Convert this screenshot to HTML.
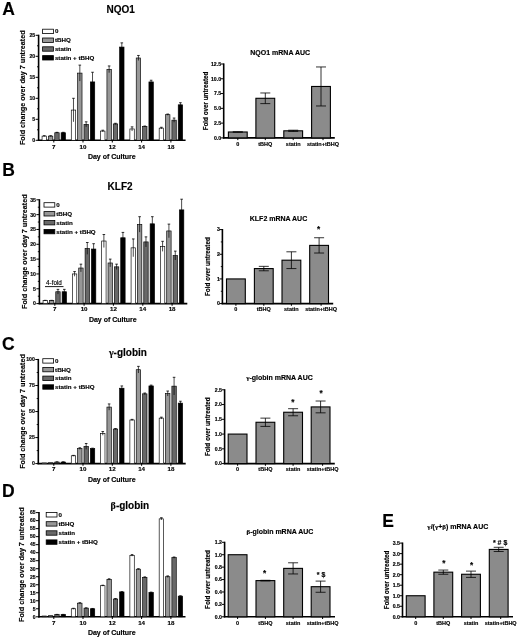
<!DOCTYPE html>
<html><head><meta charset="utf-8"><style>
html,body{margin:0;padding:0;background:#fff;}
body{width:520px;height:639px;overflow:hidden;}
svg{display:block;filter:blur(0.45px);}
text{font-family:"Liberation Sans", sans-serif;fill:#000;stroke:#000;stroke-width:0.15px;}
</style></head><body>
<svg width="520" height="639" viewBox="0 0 520 639">
<rect x="0" y="0" width="520" height="639" fill="#fff"/>
<text x="2.20" y="15.20" font-size="17.5" text-anchor="start" font-weight="bold" >A</text>
<text x="2.15" y="176.40" font-size="17.5" text-anchor="start" font-weight="bold" >B</text>
<text x="2.07" y="350.40" font-size="17.5" text-anchor="start" font-weight="bold" >C</text>
<text x="2.12" y="497.30" font-size="17.5" text-anchor="start" font-weight="bold" >D</text>
<text x="382.20" y="527.00" font-size="17.5" text-anchor="start" font-weight="bold" >E</text>
<line x1="38.60" y1="34.70" x2="38.60" y2="140.90" stroke="#000" stroke-width="1.6"/>
<line x1="37.80" y1="140.30" x2="185.60" y2="140.30" stroke="#000" stroke-width="1.6"/>
<line x1="35.60" y1="140.30" x2="38.60" y2="140.30" stroke="#000" stroke-width="1.0"/>
<text x="35.20" y="142.17" font-size="5.2" text-anchor="end" font-weight="bold" >0</text>
<line x1="35.60" y1="119.30" x2="38.60" y2="119.30" stroke="#000" stroke-width="1.0"/>
<text x="35.20" y="121.17" font-size="5.2" text-anchor="end" font-weight="bold" >5</text>
<line x1="35.60" y1="98.30" x2="38.60" y2="98.30" stroke="#000" stroke-width="1.0"/>
<text x="35.20" y="100.17" font-size="5.2" text-anchor="end" font-weight="bold" >10</text>
<line x1="35.60" y1="77.30" x2="38.60" y2="77.30" stroke="#000" stroke-width="1.0"/>
<text x="35.20" y="79.17" font-size="5.2" text-anchor="end" font-weight="bold" >15</text>
<line x1="35.60" y1="56.30" x2="38.60" y2="56.30" stroke="#000" stroke-width="1.0"/>
<text x="35.20" y="58.17" font-size="5.2" text-anchor="end" font-weight="bold" >20</text>
<line x1="35.60" y1="35.30" x2="38.60" y2="35.30" stroke="#000" stroke-width="1.0"/>
<text x="35.20" y="37.17" font-size="5.2" text-anchor="end" font-weight="bold" >25</text>
<line x1="37.00" y1="129.80" x2="38.60" y2="129.80" stroke="#000" stroke-width="0.9"/>
<line x1="37.00" y1="108.80" x2="38.60" y2="108.80" stroke="#000" stroke-width="0.9"/>
<line x1="37.00" y1="87.80" x2="38.60" y2="87.80" stroke="#000" stroke-width="0.9"/>
<line x1="37.00" y1="66.80" x2="38.60" y2="66.80" stroke="#000" stroke-width="0.9"/>
<line x1="37.00" y1="45.80" x2="38.60" y2="45.80" stroke="#000" stroke-width="0.9"/>
<line x1="53.80" y1="140.30" x2="53.80" y2="142.50" stroke="#000" stroke-width="1.0"/>
<text x="53.80" y="149.00" font-size="6.2" text-anchor="middle" font-weight="bold" >7</text>
<rect x="42.07" y="136.10" width="4.40" height="4.20" fill="#ffffff" stroke="#000" stroke-width="0.65"/>
<line x1="44.27" y1="135.68" x2="44.27" y2="136.52" stroke="#000" stroke-width="0.7"/>
<line x1="42.98" y1="135.68" x2="45.57" y2="135.68" stroke="#000" stroke-width="0.8"/>
<rect x="48.42" y="136.10" width="4.40" height="4.20" fill="#979797" stroke="#000" stroke-width="0.65"/>
<line x1="50.62" y1="135.68" x2="50.62" y2="136.52" stroke="#000" stroke-width="0.7"/>
<line x1="49.33" y1="135.68" x2="51.92" y2="135.68" stroke="#000" stroke-width="0.8"/>
<rect x="54.77" y="132.74" width="4.40" height="7.56" fill="#686868" stroke="#000" stroke-width="0.65"/>
<line x1="56.97" y1="132.32" x2="56.97" y2="133.16" stroke="#000" stroke-width="0.7"/>
<line x1="55.67" y1="132.32" x2="58.27" y2="132.32" stroke="#000" stroke-width="0.8"/>
<rect x="61.12" y="132.74" width="4.40" height="7.56" fill="#000000" stroke="#000" stroke-width="0.65"/>
<line x1="63.32" y1="132.32" x2="63.32" y2="133.16" stroke="#000" stroke-width="0.7"/>
<line x1="62.02" y1="132.32" x2="64.62" y2="132.32" stroke="#000" stroke-width="0.8"/>
<line x1="83.00" y1="140.30" x2="83.00" y2="142.50" stroke="#000" stroke-width="1.0"/>
<text x="83.00" y="149.00" font-size="6.2" text-anchor="middle" font-weight="bold" >10</text>
<rect x="71.28" y="110.06" width="4.40" height="30.24" fill="#ffffff" stroke="#000" stroke-width="0.65"/>
<line x1="73.47" y1="98.30" x2="73.47" y2="121.82" stroke="#000" stroke-width="0.7"/>
<line x1="72.17" y1="98.30" x2="74.77" y2="98.30" stroke="#000" stroke-width="0.8"/>
<rect x="77.63" y="73.10" width="4.40" height="67.20" fill="#979797" stroke="#000" stroke-width="0.65"/>
<line x1="79.83" y1="65.12" x2="79.83" y2="81.08" stroke="#000" stroke-width="0.7"/>
<line x1="78.53" y1="65.12" x2="81.12" y2="65.12" stroke="#000" stroke-width="0.8"/>
<rect x="83.98" y="124.34" width="4.40" height="15.96" fill="#686868" stroke="#000" stroke-width="0.65"/>
<line x1="86.17" y1="121.82" x2="86.17" y2="126.86" stroke="#000" stroke-width="0.7"/>
<line x1="84.88" y1="121.82" x2="87.47" y2="121.82" stroke="#000" stroke-width="0.8"/>
<rect x="90.33" y="81.92" width="4.40" height="58.38" fill="#000000" stroke="#000" stroke-width="0.65"/>
<line x1="92.53" y1="72.26" x2="92.53" y2="91.58" stroke="#000" stroke-width="0.7"/>
<line x1="91.23" y1="72.26" x2="93.83" y2="72.26" stroke="#000" stroke-width="0.8"/>
<line x1="112.30" y1="140.30" x2="112.30" y2="142.50" stroke="#000" stroke-width="1.0"/>
<text x="112.30" y="149.00" font-size="6.2" text-anchor="middle" font-weight="bold" >12</text>
<rect x="100.58" y="131.06" width="4.40" height="9.24" fill="#ffffff" stroke="#000" stroke-width="0.65"/>
<line x1="102.78" y1="130.22" x2="102.78" y2="131.90" stroke="#000" stroke-width="0.7"/>
<line x1="101.48" y1="130.22" x2="104.08" y2="130.22" stroke="#000" stroke-width="0.8"/>
<rect x="106.93" y="69.32" width="4.40" height="70.98" fill="#979797" stroke="#000" stroke-width="0.65"/>
<line x1="109.12" y1="65.96" x2="109.12" y2="72.68" stroke="#000" stroke-width="0.7"/>
<line x1="107.83" y1="65.96" x2="110.42" y2="65.96" stroke="#000" stroke-width="0.8"/>
<rect x="113.28" y="123.92" width="4.40" height="16.38" fill="#686868" stroke="#000" stroke-width="0.65"/>
<line x1="115.47" y1="123.29" x2="115.47" y2="124.55" stroke="#000" stroke-width="0.7"/>
<line x1="114.17" y1="123.29" x2="116.77" y2="123.29" stroke="#000" stroke-width="0.8"/>
<rect x="119.62" y="47.06" width="4.40" height="93.24" fill="#000000" stroke="#000" stroke-width="0.65"/>
<line x1="121.82" y1="42.86" x2="121.82" y2="51.26" stroke="#000" stroke-width="0.7"/>
<line x1="120.52" y1="42.86" x2="123.12" y2="42.86" stroke="#000" stroke-width="0.8"/>
<line x1="141.60" y1="140.30" x2="141.60" y2="142.50" stroke="#000" stroke-width="1.0"/>
<text x="141.60" y="149.00" font-size="6.2" text-anchor="middle" font-weight="bold" >14</text>
<rect x="129.88" y="128.96" width="4.40" height="11.34" fill="#ffffff" stroke="#000" stroke-width="0.65"/>
<line x1="132.07" y1="126.86" x2="132.07" y2="131.06" stroke="#000" stroke-width="0.7"/>
<line x1="130.77" y1="126.86" x2="133.38" y2="126.86" stroke="#000" stroke-width="0.8"/>
<rect x="136.22" y="57.98" width="4.40" height="82.32" fill="#979797" stroke="#000" stroke-width="0.65"/>
<line x1="138.42" y1="55.46" x2="138.42" y2="60.50" stroke="#000" stroke-width="0.7"/>
<line x1="137.12" y1="55.46" x2="139.72" y2="55.46" stroke="#000" stroke-width="0.8"/>
<rect x="142.58" y="126.44" width="4.40" height="13.86" fill="#686868" stroke="#000" stroke-width="0.65"/>
<line x1="144.78" y1="126.02" x2="144.78" y2="126.86" stroke="#000" stroke-width="0.7"/>
<line x1="143.47" y1="126.02" x2="146.08" y2="126.02" stroke="#000" stroke-width="0.8"/>
<rect x="148.93" y="81.92" width="4.40" height="58.38" fill="#000000" stroke="#000" stroke-width="0.65"/>
<line x1="151.12" y1="80.24" x2="151.12" y2="83.60" stroke="#000" stroke-width="0.7"/>
<line x1="149.82" y1="80.24" x2="152.43" y2="80.24" stroke="#000" stroke-width="0.8"/>
<line x1="170.90" y1="140.30" x2="170.90" y2="142.50" stroke="#000" stroke-width="1.0"/>
<text x="170.90" y="149.00" font-size="6.2" text-anchor="middle" font-weight="bold" >18</text>
<rect x="159.18" y="128.12" width="4.40" height="12.18" fill="#ffffff" stroke="#000" stroke-width="0.65"/>
<line x1="161.38" y1="127.28" x2="161.38" y2="128.96" stroke="#000" stroke-width="0.7"/>
<line x1="160.07" y1="127.28" x2="162.68" y2="127.28" stroke="#000" stroke-width="0.8"/>
<rect x="165.53" y="114.68" width="4.40" height="25.62" fill="#979797" stroke="#000" stroke-width="0.65"/>
<line x1="167.72" y1="114.05" x2="167.72" y2="115.31" stroke="#000" stroke-width="0.7"/>
<line x1="166.42" y1="114.05" x2="169.03" y2="114.05" stroke="#000" stroke-width="0.8"/>
<rect x="171.88" y="120.14" width="4.40" height="20.16" fill="#686868" stroke="#000" stroke-width="0.65"/>
<line x1="174.08" y1="118.04" x2="174.08" y2="122.24" stroke="#000" stroke-width="0.7"/>
<line x1="172.78" y1="118.04" x2="175.38" y2="118.04" stroke="#000" stroke-width="0.8"/>
<rect x="178.23" y="104.81" width="4.40" height="35.49" fill="#000000" stroke="#000" stroke-width="0.65"/>
<line x1="180.43" y1="102.71" x2="180.43" y2="106.91" stroke="#000" stroke-width="0.7"/>
<line x1="179.12" y1="102.71" x2="181.73" y2="102.71" stroke="#000" stroke-width="0.8"/>
<rect x="42.60" y="29.20" width="10.80" height="4.40" fill="#ffffff" stroke="#000" stroke-width="0.8"/>
<text x="54.90" y="33.40" font-size="6.2" text-anchor="start" font-weight="bold" >0</text>
<rect x="42.60" y="38.00" width="10.80" height="4.40" fill="#979797" stroke="#000" stroke-width="0.8"/>
<text x="54.90" y="42.20" font-size="6.2" text-anchor="start" font-weight="bold" >tBHQ</text>
<rect x="42.60" y="46.80" width="10.80" height="4.40" fill="#686868" stroke="#000" stroke-width="0.8"/>
<text x="54.90" y="51.00" font-size="6.2" text-anchor="start" font-weight="bold" >statin</text>
<rect x="42.60" y="55.60" width="10.80" height="4.40" fill="#000000" stroke="#000" stroke-width="0.8"/>
<text x="54.90" y="59.80" font-size="6.2" text-anchor="start" font-weight="bold" >statin + tBHQ</text>
<text x="120.60" y="12.60" font-size="10" text-anchor="middle" font-weight="bold" >NQO1</text>
<text x="111.80" y="158.50" font-size="7" text-anchor="middle" font-weight="bold" >Day of Culture</text>
<text x="0.00" y="0.00" font-size="7.2" text-anchor="middle" font-weight="bold" transform="translate(25.30,87.80) rotate(-90)">Fold change over day 7 untreated</text>
<line x1="39.40" y1="199.20" x2="39.40" y2="304.20" stroke="#000" stroke-width="1.6"/>
<line x1="38.60" y1="303.60" x2="187.30" y2="303.60" stroke="#000" stroke-width="1.6"/>
<line x1="36.40" y1="303.60" x2="39.40" y2="303.60" stroke="#000" stroke-width="1.0"/>
<text x="36.00" y="305.47" font-size="5.2" text-anchor="end" font-weight="bold" >0</text>
<line x1="36.40" y1="288.77" x2="39.40" y2="288.77" stroke="#000" stroke-width="1.0"/>
<text x="36.00" y="290.64" font-size="5.2" text-anchor="end" font-weight="bold" >5</text>
<line x1="36.40" y1="273.94" x2="39.40" y2="273.94" stroke="#000" stroke-width="1.0"/>
<text x="36.00" y="275.81" font-size="5.2" text-anchor="end" font-weight="bold" >10</text>
<line x1="36.40" y1="259.11" x2="39.40" y2="259.11" stroke="#000" stroke-width="1.0"/>
<text x="36.00" y="260.99" font-size="5.2" text-anchor="end" font-weight="bold" >15</text>
<line x1="36.40" y1="244.29" x2="39.40" y2="244.29" stroke="#000" stroke-width="1.0"/>
<text x="36.00" y="246.16" font-size="5.2" text-anchor="end" font-weight="bold" >20</text>
<line x1="36.40" y1="229.46" x2="39.40" y2="229.46" stroke="#000" stroke-width="1.0"/>
<text x="36.00" y="231.33" font-size="5.2" text-anchor="end" font-weight="bold" >25</text>
<line x1="36.40" y1="214.63" x2="39.40" y2="214.63" stroke="#000" stroke-width="1.0"/>
<text x="36.00" y="216.50" font-size="5.2" text-anchor="end" font-weight="bold" >30</text>
<line x1="36.40" y1="199.80" x2="39.40" y2="199.80" stroke="#000" stroke-width="1.0"/>
<text x="36.00" y="201.67" font-size="5.2" text-anchor="end" font-weight="bold" >35</text>
<line x1="37.80" y1="296.19" x2="39.40" y2="296.19" stroke="#000" stroke-width="0.9"/>
<line x1="37.80" y1="281.36" x2="39.40" y2="281.36" stroke="#000" stroke-width="0.9"/>
<line x1="37.80" y1="266.53" x2="39.40" y2="266.53" stroke="#000" stroke-width="0.9"/>
<line x1="37.80" y1="251.70" x2="39.40" y2="251.70" stroke="#000" stroke-width="0.9"/>
<line x1="37.80" y1="236.87" x2="39.40" y2="236.87" stroke="#000" stroke-width="0.9"/>
<line x1="37.80" y1="222.04" x2="39.40" y2="222.04" stroke="#000" stroke-width="0.9"/>
<line x1="37.80" y1="207.21" x2="39.40" y2="207.21" stroke="#000" stroke-width="0.9"/>
<line x1="54.80" y1="303.60" x2="54.80" y2="305.80" stroke="#000" stroke-width="1.0"/>
<text x="54.80" y="311.30" font-size="6.2" text-anchor="middle" font-weight="bold" >7</text>
<rect x="43.07" y="300.63" width="4.40" height="2.97" fill="#ffffff" stroke="#000" stroke-width="0.65"/>
<line x1="45.27" y1="300.34" x2="45.27" y2="300.93" stroke="#000" stroke-width="0.7"/>
<line x1="43.98" y1="300.34" x2="46.57" y2="300.34" stroke="#000" stroke-width="0.8"/>
<rect x="49.42" y="300.63" width="4.40" height="2.97" fill="#979797" stroke="#000" stroke-width="0.65"/>
<line x1="51.62" y1="300.34" x2="51.62" y2="300.93" stroke="#000" stroke-width="0.7"/>
<line x1="50.33" y1="300.34" x2="52.92" y2="300.34" stroke="#000" stroke-width="0.8"/>
<rect x="55.77" y="291.74" width="4.40" height="11.86" fill="#686868" stroke="#000" stroke-width="0.65"/>
<line x1="57.97" y1="289.36" x2="57.97" y2="294.11" stroke="#000" stroke-width="0.7"/>
<line x1="56.67" y1="289.36" x2="59.27" y2="289.36" stroke="#000" stroke-width="0.8"/>
<rect x="62.12" y="291.74" width="4.40" height="11.86" fill="#000000" stroke="#000" stroke-width="0.65"/>
<line x1="64.32" y1="289.36" x2="64.32" y2="294.11" stroke="#000" stroke-width="0.7"/>
<line x1="63.02" y1="289.36" x2="65.62" y2="289.36" stroke="#000" stroke-width="0.8"/>
<line x1="84.10" y1="303.60" x2="84.10" y2="305.80" stroke="#000" stroke-width="1.0"/>
<text x="84.10" y="311.30" font-size="6.2" text-anchor="middle" font-weight="bold" >10</text>
<rect x="72.38" y="273.94" width="4.40" height="29.66" fill="#ffffff" stroke="#000" stroke-width="0.65"/>
<line x1="74.57" y1="271.57" x2="74.57" y2="276.32" stroke="#000" stroke-width="0.7"/>
<line x1="73.27" y1="271.57" x2="75.87" y2="271.57" stroke="#000" stroke-width="0.8"/>
<rect x="78.73" y="268.01" width="4.40" height="35.59" fill="#979797" stroke="#000" stroke-width="0.65"/>
<line x1="80.92" y1="264.16" x2="80.92" y2="271.87" stroke="#000" stroke-width="0.7"/>
<line x1="79.62" y1="264.16" x2="82.22" y2="264.16" stroke="#000" stroke-width="0.8"/>
<rect x="85.08" y="248.44" width="4.40" height="55.16" fill="#686868" stroke="#000" stroke-width="0.65"/>
<line x1="87.27" y1="242.51" x2="87.27" y2="254.37" stroke="#000" stroke-width="0.7"/>
<line x1="85.97" y1="242.51" x2="88.57" y2="242.51" stroke="#000" stroke-width="0.8"/>
<rect x="91.43" y="249.03" width="4.40" height="54.57" fill="#000000" stroke="#000" stroke-width="0.65"/>
<line x1="93.62" y1="243.69" x2="93.62" y2="254.37" stroke="#000" stroke-width="0.7"/>
<line x1="92.33" y1="243.69" x2="94.92" y2="243.69" stroke="#000" stroke-width="0.8"/>
<line x1="113.40" y1="303.60" x2="113.40" y2="305.80" stroke="#000" stroke-width="1.0"/>
<text x="113.40" y="311.30" font-size="6.2" text-anchor="middle" font-weight="bold" >12</text>
<rect x="101.68" y="241.02" width="4.40" height="62.58" fill="#ffffff" stroke="#000" stroke-width="0.65"/>
<line x1="103.88" y1="234.50" x2="103.88" y2="247.55" stroke="#000" stroke-width="0.7"/>
<line x1="102.58" y1="234.50" x2="105.17" y2="234.50" stroke="#000" stroke-width="0.8"/>
<rect x="108.03" y="262.97" width="4.40" height="40.63" fill="#979797" stroke="#000" stroke-width="0.65"/>
<line x1="110.23" y1="259.11" x2="110.23" y2="266.83" stroke="#000" stroke-width="0.7"/>
<line x1="108.93" y1="259.11" x2="111.53" y2="259.11" stroke="#000" stroke-width="0.8"/>
<rect x="114.38" y="266.83" width="4.40" height="36.77" fill="#686868" stroke="#000" stroke-width="0.65"/>
<line x1="116.58" y1="264.16" x2="116.58" y2="269.49" stroke="#000" stroke-width="0.7"/>
<line x1="115.28" y1="264.16" x2="117.88" y2="264.16" stroke="#000" stroke-width="0.8"/>
<rect x="120.73" y="237.76" width="4.40" height="65.84" fill="#000000" stroke="#000" stroke-width="0.65"/>
<line x1="122.93" y1="232.42" x2="122.93" y2="243.10" stroke="#000" stroke-width="0.7"/>
<line x1="121.63" y1="232.42" x2="124.23" y2="232.42" stroke="#000" stroke-width="0.8"/>
<line x1="142.80" y1="303.60" x2="142.80" y2="305.80" stroke="#000" stroke-width="1.0"/>
<text x="142.80" y="311.30" font-size="6.2" text-anchor="middle" font-weight="bold" >14</text>
<rect x="131.08" y="247.84" width="4.40" height="55.76" fill="#ffffff" stroke="#000" stroke-width="0.65"/>
<line x1="133.28" y1="238.95" x2="133.28" y2="256.74" stroke="#000" stroke-width="0.7"/>
<line x1="131.97" y1="238.95" x2="134.58" y2="238.95" stroke="#000" stroke-width="0.8"/>
<rect x="137.43" y="224.42" width="4.40" height="79.18" fill="#979797" stroke="#000" stroke-width="0.65"/>
<line x1="139.62" y1="216.70" x2="139.62" y2="232.13" stroke="#000" stroke-width="0.7"/>
<line x1="138.32" y1="216.70" x2="140.93" y2="216.70" stroke="#000" stroke-width="0.8"/>
<rect x="143.78" y="241.91" width="4.40" height="61.69" fill="#686868" stroke="#000" stroke-width="0.65"/>
<line x1="145.98" y1="236.87" x2="145.98" y2="246.95" stroke="#000" stroke-width="0.7"/>
<line x1="144.68" y1="236.87" x2="147.28" y2="236.87" stroke="#000" stroke-width="0.8"/>
<rect x="150.13" y="223.82" width="4.40" height="79.78" fill="#000000" stroke="#000" stroke-width="0.65"/>
<line x1="152.33" y1="216.70" x2="152.33" y2="230.94" stroke="#000" stroke-width="0.7"/>
<line x1="151.03" y1="216.70" x2="153.63" y2="216.70" stroke="#000" stroke-width="0.8"/>
<line x1="172.10" y1="303.60" x2="172.10" y2="305.80" stroke="#000" stroke-width="1.0"/>
<text x="172.10" y="311.30" font-size="6.2" text-anchor="middle" font-weight="bold" >18</text>
<rect x="160.38" y="246.36" width="4.40" height="57.24" fill="#ffffff" stroke="#000" stroke-width="0.65"/>
<line x1="162.57" y1="241.32" x2="162.57" y2="251.40" stroke="#000" stroke-width="0.7"/>
<line x1="161.27" y1="241.32" x2="163.88" y2="241.32" stroke="#000" stroke-width="0.8"/>
<rect x="166.72" y="230.94" width="4.40" height="72.66" fill="#979797" stroke="#000" stroke-width="0.65"/>
<line x1="168.92" y1="224.12" x2="168.92" y2="237.76" stroke="#000" stroke-width="0.7"/>
<line x1="167.62" y1="224.12" x2="170.22" y2="224.12" stroke="#000" stroke-width="0.8"/>
<rect x="173.08" y="255.56" width="4.40" height="48.04" fill="#686868" stroke="#000" stroke-width="0.65"/>
<line x1="175.28" y1="251.11" x2="175.28" y2="260.00" stroke="#000" stroke-width="0.7"/>
<line x1="173.97" y1="251.11" x2="176.58" y2="251.11" stroke="#000" stroke-width="0.8"/>
<rect x="179.43" y="209.88" width="4.40" height="93.72" fill="#000000" stroke="#000" stroke-width="0.65"/>
<line x1="181.62" y1="199.21" x2="181.62" y2="220.56" stroke="#000" stroke-width="0.7"/>
<line x1="180.32" y1="199.21" x2="182.93" y2="199.21" stroke="#000" stroke-width="0.8"/>
<rect x="44.00" y="202.70" width="10.80" height="4.40" fill="#ffffff" stroke="#000" stroke-width="0.8"/>
<text x="56.30" y="206.90" font-size="6.2" text-anchor="start" font-weight="bold" >0</text>
<rect x="44.00" y="211.60" width="10.80" height="4.40" fill="#979797" stroke="#000" stroke-width="0.8"/>
<text x="56.30" y="215.80" font-size="6.2" text-anchor="start" font-weight="bold" >tBHQ</text>
<rect x="44.00" y="220.50" width="10.80" height="4.40" fill="#686868" stroke="#000" stroke-width="0.8"/>
<text x="56.30" y="224.70" font-size="6.2" text-anchor="start" font-weight="bold" >statin</text>
<rect x="44.00" y="229.40" width="10.80" height="4.40" fill="#000000" stroke="#000" stroke-width="0.8"/>
<text x="56.30" y="233.60" font-size="6.2" text-anchor="start" font-weight="bold" >statin + tBHQ</text>
<text x="120.10" y="190.30" font-size="10" text-anchor="middle" font-weight="bold" >KLF2</text>
<text x="112.80" y="322.00" font-size="7" text-anchor="middle" font-weight="bold" >Day of Culture</text>
<text x="0.00" y="0.00" font-size="7.2" text-anchor="middle" font-weight="bold" transform="translate(26.50,251.70) rotate(-90)">Fold change over day 7 untreated</text>
<text x="54.00" y="284.60" font-size="6.3" text-anchor="middle" font-weight="normal" >4-fold</text>
<line x1="45.00" y1="286.60" x2="63.50" y2="286.60" stroke="#000" stroke-width="0.9"/>
<line x1="38.30" y1="358.90" x2="38.30" y2="464.20" stroke="#000" stroke-width="1.6"/>
<line x1="37.50" y1="463.60" x2="185.70" y2="463.60" stroke="#000" stroke-width="1.6"/>
<line x1="35.30" y1="463.60" x2="38.30" y2="463.60" stroke="#000" stroke-width="1.0"/>
<text x="34.90" y="465.47" font-size="5.2" text-anchor="end" font-weight="bold" >0</text>
<line x1="35.30" y1="437.58" x2="38.30" y2="437.58" stroke="#000" stroke-width="1.0"/>
<text x="34.90" y="439.45" font-size="5.2" text-anchor="end" font-weight="bold" >25</text>
<line x1="35.30" y1="411.55" x2="38.30" y2="411.55" stroke="#000" stroke-width="1.0"/>
<text x="34.90" y="413.42" font-size="5.2" text-anchor="end" font-weight="bold" >50</text>
<line x1="35.30" y1="385.52" x2="38.30" y2="385.52" stroke="#000" stroke-width="1.0"/>
<text x="34.90" y="387.40" font-size="5.2" text-anchor="end" font-weight="bold" >75</text>
<line x1="35.30" y1="359.50" x2="38.30" y2="359.50" stroke="#000" stroke-width="1.0"/>
<text x="34.90" y="361.37" font-size="5.2" text-anchor="end" font-weight="bold" >100</text>
<line x1="36.70" y1="450.59" x2="38.30" y2="450.59" stroke="#000" stroke-width="0.9"/>
<line x1="36.70" y1="424.56" x2="38.30" y2="424.56" stroke="#000" stroke-width="0.9"/>
<line x1="36.70" y1="398.54" x2="38.30" y2="398.54" stroke="#000" stroke-width="0.9"/>
<line x1="36.70" y1="372.51" x2="38.30" y2="372.51" stroke="#000" stroke-width="0.9"/>
<line x1="53.80" y1="463.60" x2="53.80" y2="465.80" stroke="#000" stroke-width="1.0"/>
<text x="53.80" y="471.00" font-size="6.2" text-anchor="middle" font-weight="bold" >7</text>
<rect x="42.07" y="462.98" width="4.40" height="0.62" fill="#ffffff" stroke="#000" stroke-width="0.65"/>
<rect x="48.42" y="462.77" width="4.40" height="0.83" fill="#979797" stroke="#000" stroke-width="0.65"/>
<rect x="54.77" y="462.04" width="4.40" height="1.56" fill="#686868" stroke="#000" stroke-width="0.65"/>
<line x1="56.97" y1="461.83" x2="56.97" y2="462.25" stroke="#000" stroke-width="0.7"/>
<line x1="55.67" y1="461.83" x2="58.27" y2="461.83" stroke="#000" stroke-width="0.8"/>
<rect x="61.12" y="462.04" width="4.40" height="1.56" fill="#000000" stroke="#000" stroke-width="0.65"/>
<line x1="63.32" y1="461.83" x2="63.32" y2="462.25" stroke="#000" stroke-width="0.7"/>
<line x1="62.02" y1="461.83" x2="64.62" y2="461.83" stroke="#000" stroke-width="0.8"/>
<line x1="83.00" y1="463.60" x2="83.00" y2="465.80" stroke="#000" stroke-width="1.0"/>
<text x="83.00" y="471.00" font-size="6.2" text-anchor="middle" font-weight="bold" >10</text>
<rect x="71.28" y="455.79" width="4.40" height="7.81" fill="#ffffff" stroke="#000" stroke-width="0.65"/>
<line x1="73.47" y1="455.38" x2="73.47" y2="456.21" stroke="#000" stroke-width="0.7"/>
<line x1="72.17" y1="455.38" x2="74.77" y2="455.38" stroke="#000" stroke-width="0.8"/>
<rect x="77.63" y="448.61" width="4.40" height="14.99" fill="#979797" stroke="#000" stroke-width="0.65"/>
<line x1="79.83" y1="447.78" x2="79.83" y2="449.44" stroke="#000" stroke-width="0.7"/>
<line x1="78.53" y1="447.78" x2="81.12" y2="447.78" stroke="#000" stroke-width="0.8"/>
<rect x="83.98" y="446.42" width="4.40" height="17.18" fill="#686868" stroke="#000" stroke-width="0.65"/>
<line x1="86.17" y1="443.51" x2="86.17" y2="449.34" stroke="#000" stroke-width="0.7"/>
<line x1="84.88" y1="443.51" x2="87.47" y2="443.51" stroke="#000" stroke-width="0.8"/>
<rect x="90.33" y="448.61" width="4.40" height="14.99" fill="#000000" stroke="#000" stroke-width="0.65"/>
<line x1="92.53" y1="448.19" x2="92.53" y2="449.03" stroke="#000" stroke-width="0.7"/>
<line x1="91.23" y1="448.19" x2="93.83" y2="448.19" stroke="#000" stroke-width="0.8"/>
<line x1="112.30" y1="463.60" x2="112.30" y2="465.80" stroke="#000" stroke-width="1.0"/>
<text x="112.30" y="471.00" font-size="6.2" text-anchor="middle" font-weight="bold" >12</text>
<rect x="100.58" y="433.41" width="4.40" height="30.19" fill="#ffffff" stroke="#000" stroke-width="0.65"/>
<line x1="102.78" y1="431.54" x2="102.78" y2="435.28" stroke="#000" stroke-width="0.7"/>
<line x1="101.48" y1="431.54" x2="104.08" y2="431.54" stroke="#000" stroke-width="0.8"/>
<rect x="106.93" y="407.07" width="4.40" height="56.53" fill="#979797" stroke="#000" stroke-width="0.65"/>
<line x1="109.12" y1="403.95" x2="109.12" y2="410.20" stroke="#000" stroke-width="0.7"/>
<line x1="107.83" y1="403.95" x2="110.42" y2="403.95" stroke="#000" stroke-width="0.8"/>
<rect x="113.28" y="429.04" width="4.40" height="34.56" fill="#686868" stroke="#000" stroke-width="0.65"/>
<line x1="115.47" y1="428.52" x2="115.47" y2="429.56" stroke="#000" stroke-width="0.7"/>
<line x1="114.17" y1="428.52" x2="116.77" y2="428.52" stroke="#000" stroke-width="0.8"/>
<rect x="119.62" y="388.23" width="4.40" height="75.37" fill="#000000" stroke="#000" stroke-width="0.65"/>
<line x1="121.82" y1="385.94" x2="121.82" y2="390.52" stroke="#000" stroke-width="0.7"/>
<line x1="120.52" y1="385.94" x2="123.12" y2="385.94" stroke="#000" stroke-width="0.8"/>
<line x1="141.60" y1="463.60" x2="141.60" y2="465.80" stroke="#000" stroke-width="1.0"/>
<text x="141.60" y="471.00" font-size="6.2" text-anchor="middle" font-weight="bold" >14</text>
<rect x="129.88" y="419.98" width="4.40" height="43.62" fill="#ffffff" stroke="#000" stroke-width="0.65"/>
<line x1="132.07" y1="419.36" x2="132.07" y2="420.61" stroke="#000" stroke-width="0.7"/>
<line x1="130.77" y1="419.36" x2="133.38" y2="419.36" stroke="#000" stroke-width="0.8"/>
<rect x="136.22" y="369.70" width="4.40" height="93.90" fill="#979797" stroke="#000" stroke-width="0.65"/>
<line x1="138.42" y1="366.37" x2="138.42" y2="373.03" stroke="#000" stroke-width="0.7"/>
<line x1="137.12" y1="366.37" x2="139.72" y2="366.37" stroke="#000" stroke-width="0.8"/>
<rect x="142.58" y="393.85" width="4.40" height="69.75" fill="#686868" stroke="#000" stroke-width="0.65"/>
<line x1="144.78" y1="393.02" x2="144.78" y2="394.69" stroke="#000" stroke-width="0.7"/>
<line x1="143.47" y1="393.02" x2="146.08" y2="393.02" stroke="#000" stroke-width="0.8"/>
<rect x="148.93" y="385.94" width="4.40" height="77.66" fill="#000000" stroke="#000" stroke-width="0.65"/>
<line x1="151.12" y1="385.11" x2="151.12" y2="386.77" stroke="#000" stroke-width="0.7"/>
<line x1="149.82" y1="385.11" x2="152.43" y2="385.11" stroke="#000" stroke-width="0.8"/>
<line x1="170.90" y1="463.60" x2="170.90" y2="465.80" stroke="#000" stroke-width="1.0"/>
<text x="170.90" y="471.00" font-size="6.2" text-anchor="middle" font-weight="bold" >18</text>
<rect x="159.18" y="418.11" width="4.40" height="45.49" fill="#ffffff" stroke="#000" stroke-width="0.65"/>
<line x1="161.38" y1="417.17" x2="161.38" y2="419.05" stroke="#000" stroke-width="0.7"/>
<line x1="160.07" y1="417.17" x2="162.68" y2="417.17" stroke="#000" stroke-width="0.8"/>
<rect x="165.53" y="393.54" width="4.40" height="70.06" fill="#979797" stroke="#000" stroke-width="0.65"/>
<line x1="167.72" y1="391.04" x2="167.72" y2="396.04" stroke="#000" stroke-width="0.7"/>
<line x1="166.42" y1="391.04" x2="169.03" y2="391.04" stroke="#000" stroke-width="0.8"/>
<rect x="171.88" y="386.15" width="4.40" height="77.45" fill="#686868" stroke="#000" stroke-width="0.65"/>
<line x1="174.08" y1="377.30" x2="174.08" y2="395.00" stroke="#000" stroke-width="0.7"/>
<line x1="172.78" y1="377.30" x2="175.38" y2="377.30" stroke="#000" stroke-width="0.8"/>
<rect x="178.23" y="403.12" width="4.40" height="60.48" fill="#000000" stroke="#000" stroke-width="0.65"/>
<line x1="180.43" y1="401.24" x2="180.43" y2="404.99" stroke="#000" stroke-width="0.7"/>
<line x1="179.12" y1="401.24" x2="181.73" y2="401.24" stroke="#000" stroke-width="0.8"/>
<rect x="42.80" y="358.70" width="10.80" height="4.40" fill="#ffffff" stroke="#000" stroke-width="0.8"/>
<text x="55.10" y="362.90" font-size="6.2" text-anchor="start" font-weight="bold" >0</text>
<rect x="42.80" y="367.40" width="10.80" height="4.40" fill="#979797" stroke="#000" stroke-width="0.8"/>
<text x="55.10" y="371.60" font-size="6.2" text-anchor="start" font-weight="bold" >tBHQ</text>
<rect x="42.80" y="376.10" width="10.80" height="4.40" fill="#686868" stroke="#000" stroke-width="0.8"/>
<text x="55.10" y="380.30" font-size="6.2" text-anchor="start" font-weight="bold" >statin</text>
<rect x="42.80" y="384.80" width="10.80" height="4.40" fill="#000000" stroke="#000" stroke-width="0.8"/>
<text x="55.10" y="389.00" font-size="6.2" text-anchor="start" font-weight="bold" >statin + tBHQ</text>
<text x="127.90" y="356.40" font-size="10" text-anchor="middle" font-weight="bold" ><tspan font-family="Liberation Serif" font-weight="bold">γ</tspan>-globin</text>
<text x="111.80" y="481.50" font-size="7" text-anchor="middle" font-weight="bold" >Day of Culture</text>
<text x="0.00" y="0.00" font-size="7.2" text-anchor="middle" font-weight="bold" transform="translate(25.20,411.55) rotate(-90)">Fold change over day 7 untreated</text>
<line x1="39.00" y1="512.00" x2="39.00" y2="617.40" stroke="#000" stroke-width="1.6"/>
<line x1="38.20" y1="616.80" x2="185.50" y2="616.80" stroke="#000" stroke-width="1.6"/>
<line x1="36.00" y1="616.80" x2="39.00" y2="616.80" stroke="#000" stroke-width="1.0"/>
<text x="35.60" y="618.60" font-size="5.0" text-anchor="end" font-weight="bold" >0</text>
<line x1="36.00" y1="608.78" x2="39.00" y2="608.78" stroke="#000" stroke-width="1.0"/>
<text x="35.60" y="610.58" font-size="5.0" text-anchor="end" font-weight="bold" >5</text>
<line x1="36.00" y1="600.77" x2="39.00" y2="600.77" stroke="#000" stroke-width="1.0"/>
<text x="35.60" y="602.57" font-size="5.0" text-anchor="end" font-weight="bold" >10</text>
<line x1="36.00" y1="592.75" x2="39.00" y2="592.75" stroke="#000" stroke-width="1.0"/>
<text x="35.60" y="594.55" font-size="5.0" text-anchor="end" font-weight="bold" >15</text>
<line x1="36.00" y1="584.74" x2="39.00" y2="584.74" stroke="#000" stroke-width="1.0"/>
<text x="35.60" y="586.54" font-size="5.0" text-anchor="end" font-weight="bold" >20</text>
<line x1="36.00" y1="576.72" x2="39.00" y2="576.72" stroke="#000" stroke-width="1.0"/>
<text x="35.60" y="578.52" font-size="5.0" text-anchor="end" font-weight="bold" >25</text>
<line x1="36.00" y1="568.71" x2="39.00" y2="568.71" stroke="#000" stroke-width="1.0"/>
<text x="35.60" y="570.51" font-size="5.0" text-anchor="end" font-weight="bold" >30</text>
<line x1="36.00" y1="560.69" x2="39.00" y2="560.69" stroke="#000" stroke-width="1.0"/>
<text x="35.60" y="562.49" font-size="5.0" text-anchor="end" font-weight="bold" >35</text>
<line x1="36.00" y1="552.68" x2="39.00" y2="552.68" stroke="#000" stroke-width="1.0"/>
<text x="35.60" y="554.48" font-size="5.0" text-anchor="end" font-weight="bold" >40</text>
<line x1="36.00" y1="544.66" x2="39.00" y2="544.66" stroke="#000" stroke-width="1.0"/>
<text x="35.60" y="546.46" font-size="5.0" text-anchor="end" font-weight="bold" >45</text>
<line x1="36.00" y1="536.65" x2="39.00" y2="536.65" stroke="#000" stroke-width="1.0"/>
<text x="35.60" y="538.45" font-size="5.0" text-anchor="end" font-weight="bold" >50</text>
<line x1="36.00" y1="528.63" x2="39.00" y2="528.63" stroke="#000" stroke-width="1.0"/>
<text x="35.60" y="530.43" font-size="5.0" text-anchor="end" font-weight="bold" >55</text>
<line x1="36.00" y1="520.62" x2="39.00" y2="520.62" stroke="#000" stroke-width="1.0"/>
<text x="35.60" y="522.42" font-size="5.0" text-anchor="end" font-weight="bold" >60</text>
<line x1="36.00" y1="512.60" x2="39.00" y2="512.60" stroke="#000" stroke-width="1.0"/>
<text x="35.60" y="514.40" font-size="5.0" text-anchor="end" font-weight="bold" >65</text>
<line x1="53.80" y1="616.80" x2="53.80" y2="619.00" stroke="#000" stroke-width="1.0"/>
<text x="53.80" y="625.00" font-size="6.2" text-anchor="middle" font-weight="bold" >7</text>
<rect x="42.07" y="616.00" width="4.40" height="0.80" fill="#ffffff" stroke="#000" stroke-width="0.65"/>
<rect x="48.42" y="615.68" width="4.40" height="1.12" fill="#979797" stroke="#000" stroke-width="0.65"/>
<rect x="54.77" y="614.56" width="4.40" height="2.24" fill="#686868" stroke="#000" stroke-width="0.65"/>
<line x1="56.97" y1="614.40" x2="56.97" y2="614.72" stroke="#000" stroke-width="0.7"/>
<line x1="55.67" y1="614.40" x2="58.27" y2="614.40" stroke="#000" stroke-width="0.8"/>
<rect x="61.12" y="614.56" width="4.40" height="2.24" fill="#000000" stroke="#000" stroke-width="0.65"/>
<line x1="63.32" y1="614.40" x2="63.32" y2="614.72" stroke="#000" stroke-width="0.7"/>
<line x1="62.02" y1="614.40" x2="64.62" y2="614.40" stroke="#000" stroke-width="0.8"/>
<line x1="83.00" y1="616.80" x2="83.00" y2="619.00" stroke="#000" stroke-width="1.0"/>
<text x="83.00" y="625.00" font-size="6.2" text-anchor="middle" font-weight="bold" >10</text>
<rect x="71.28" y="608.78" width="4.40" height="8.02" fill="#ffffff" stroke="#000" stroke-width="0.65"/>
<line x1="73.47" y1="608.30" x2="73.47" y2="609.27" stroke="#000" stroke-width="0.7"/>
<line x1="72.17" y1="608.30" x2="74.77" y2="608.30" stroke="#000" stroke-width="0.8"/>
<rect x="77.63" y="603.17" width="4.40" height="13.63" fill="#979797" stroke="#000" stroke-width="0.65"/>
<line x1="79.83" y1="602.69" x2="79.83" y2="603.65" stroke="#000" stroke-width="0.7"/>
<line x1="78.53" y1="602.69" x2="81.12" y2="602.69" stroke="#000" stroke-width="0.8"/>
<rect x="83.98" y="608.14" width="4.40" height="8.66" fill="#686868" stroke="#000" stroke-width="0.65"/>
<line x1="86.17" y1="607.82" x2="86.17" y2="608.46" stroke="#000" stroke-width="0.7"/>
<line x1="84.88" y1="607.82" x2="87.47" y2="607.82" stroke="#000" stroke-width="0.8"/>
<rect x="90.33" y="608.78" width="4.40" height="8.02" fill="#000000" stroke="#000" stroke-width="0.65"/>
<line x1="92.53" y1="608.46" x2="92.53" y2="609.11" stroke="#000" stroke-width="0.7"/>
<line x1="91.23" y1="608.46" x2="93.83" y2="608.46" stroke="#000" stroke-width="0.8"/>
<line x1="112.30" y1="616.80" x2="112.30" y2="619.00" stroke="#000" stroke-width="1.0"/>
<text x="112.30" y="625.00" font-size="6.2" text-anchor="middle" font-weight="bold" >12</text>
<rect x="100.58" y="585.70" width="4.40" height="31.10" fill="#ffffff" stroke="#000" stroke-width="0.65"/>
<line x1="102.78" y1="585.22" x2="102.78" y2="586.18" stroke="#000" stroke-width="0.7"/>
<line x1="101.48" y1="585.22" x2="104.08" y2="585.22" stroke="#000" stroke-width="0.8"/>
<rect x="106.93" y="579.45" width="4.40" height="37.35" fill="#979797" stroke="#000" stroke-width="0.65"/>
<line x1="109.12" y1="578.81" x2="109.12" y2="580.09" stroke="#000" stroke-width="0.7"/>
<line x1="107.83" y1="578.81" x2="110.42" y2="578.81" stroke="#000" stroke-width="0.8"/>
<rect x="113.28" y="599.01" width="4.40" height="17.79" fill="#686868" stroke="#000" stroke-width="0.65"/>
<line x1="115.47" y1="598.52" x2="115.47" y2="599.49" stroke="#000" stroke-width="0.7"/>
<line x1="114.17" y1="598.52" x2="116.77" y2="598.52" stroke="#000" stroke-width="0.8"/>
<rect x="119.62" y="591.95" width="4.40" height="24.85" fill="#000000" stroke="#000" stroke-width="0.65"/>
<line x1="121.82" y1="591.63" x2="121.82" y2="592.27" stroke="#000" stroke-width="0.7"/>
<line x1="120.52" y1="591.63" x2="123.12" y2="591.63" stroke="#000" stroke-width="0.8"/>
<line x1="141.60" y1="616.80" x2="141.60" y2="619.00" stroke="#000" stroke-width="1.0"/>
<text x="141.60" y="625.00" font-size="6.2" text-anchor="middle" font-weight="bold" >14</text>
<rect x="129.88" y="555.40" width="4.40" height="61.40" fill="#ffffff" stroke="#000" stroke-width="0.65"/>
<line x1="132.07" y1="554.60" x2="132.07" y2="556.20" stroke="#000" stroke-width="0.7"/>
<line x1="130.77" y1="554.60" x2="133.38" y2="554.60" stroke="#000" stroke-width="0.8"/>
<rect x="136.22" y="569.19" width="4.40" height="47.61" fill="#979797" stroke="#000" stroke-width="0.65"/>
<line x1="138.42" y1="568.71" x2="138.42" y2="569.67" stroke="#000" stroke-width="0.7"/>
<line x1="137.12" y1="568.71" x2="139.72" y2="568.71" stroke="#000" stroke-width="0.8"/>
<rect x="142.58" y="577.36" width="4.40" height="39.44" fill="#686868" stroke="#000" stroke-width="0.65"/>
<line x1="144.78" y1="576.88" x2="144.78" y2="577.85" stroke="#000" stroke-width="0.7"/>
<line x1="143.47" y1="576.88" x2="146.08" y2="576.88" stroke="#000" stroke-width="0.8"/>
<rect x="148.93" y="592.43" width="4.40" height="24.37" fill="#000000" stroke="#000" stroke-width="0.65"/>
<line x1="151.12" y1="592.11" x2="151.12" y2="592.75" stroke="#000" stroke-width="0.7"/>
<line x1="149.82" y1="592.11" x2="152.43" y2="592.11" stroke="#000" stroke-width="0.8"/>
<line x1="170.90" y1="616.80" x2="170.90" y2="619.00" stroke="#000" stroke-width="1.0"/>
<text x="170.90" y="625.00" font-size="6.2" text-anchor="middle" font-weight="bold" >18</text>
<rect x="159.18" y="518.85" width="4.40" height="97.95" fill="#ffffff" stroke="#000" stroke-width="0.65"/>
<line x1="161.38" y1="517.73" x2="161.38" y2="519.97" stroke="#000" stroke-width="0.7"/>
<line x1="160.07" y1="517.73" x2="162.68" y2="517.73" stroke="#000" stroke-width="0.8"/>
<rect x="165.53" y="576.72" width="4.40" height="40.08" fill="#979797" stroke="#000" stroke-width="0.65"/>
<line x1="167.72" y1="575.92" x2="167.72" y2="577.52" stroke="#000" stroke-width="0.7"/>
<line x1="166.42" y1="575.92" x2="169.03" y2="575.92" stroke="#000" stroke-width="0.8"/>
<rect x="171.88" y="557.65" width="4.40" height="59.15" fill="#686868" stroke="#000" stroke-width="0.65"/>
<line x1="174.08" y1="557.01" x2="174.08" y2="558.29" stroke="#000" stroke-width="0.7"/>
<line x1="172.78" y1="557.01" x2="175.38" y2="557.01" stroke="#000" stroke-width="0.8"/>
<rect x="178.23" y="596.12" width="4.40" height="20.68" fill="#000000" stroke="#000" stroke-width="0.65"/>
<line x1="180.43" y1="595.80" x2="180.43" y2="596.44" stroke="#000" stroke-width="0.7"/>
<line x1="179.12" y1="595.80" x2="181.73" y2="595.80" stroke="#000" stroke-width="0.8"/>
<rect x="46.20" y="512.60" width="10.80" height="4.40" fill="#ffffff" stroke="#000" stroke-width="0.8"/>
<text x="58.50" y="516.80" font-size="6.2" text-anchor="start" font-weight="bold" >0</text>
<rect x="46.20" y="521.70" width="10.80" height="4.40" fill="#979797" stroke="#000" stroke-width="0.8"/>
<text x="58.50" y="525.90" font-size="6.2" text-anchor="start" font-weight="bold" >tBHQ</text>
<rect x="46.20" y="530.80" width="10.80" height="4.40" fill="#686868" stroke="#000" stroke-width="0.8"/>
<text x="58.50" y="535.00" font-size="6.2" text-anchor="start" font-weight="bold" >statin</text>
<rect x="46.20" y="539.90" width="10.80" height="4.40" fill="#000000" stroke="#000" stroke-width="0.8"/>
<text x="58.50" y="544.10" font-size="6.2" text-anchor="start" font-weight="bold" >statin + tBHQ</text>
<text x="129.90" y="509.30" font-size="10" text-anchor="middle" font-weight="bold" ><tspan font-family="Liberation Serif" font-weight="bold">β</tspan>-globin</text>
<text x="111.80" y="635.00" font-size="7" text-anchor="middle" font-weight="bold" >Day of Culture</text>
<text x="0.00" y="0.00" font-size="7.2" text-anchor="middle" font-weight="bold" transform="translate(23.60,564.70) rotate(-90)">Fold change over day 7 untreated</text>
<line x1="223.70" y1="63.40" x2="223.70" y2="138.50" stroke="#000" stroke-width="1.6"/>
<line x1="222.90" y1="137.90" x2="334.80" y2="137.90" stroke="#000" stroke-width="1.6"/>
<line x1="220.70" y1="137.90" x2="223.70" y2="137.90" stroke="#000" stroke-width="1.0"/>
<text x="221.10" y="139.77" font-size="5.2" text-anchor="end" font-weight="bold" >0.0</text>
<line x1="220.70" y1="123.12" x2="223.70" y2="123.12" stroke="#000" stroke-width="1.0"/>
<text x="221.10" y="124.99" font-size="5.2" text-anchor="end" font-weight="bold" >2.5</text>
<line x1="220.70" y1="108.34" x2="223.70" y2="108.34" stroke="#000" stroke-width="1.0"/>
<text x="221.10" y="110.21" font-size="5.2" text-anchor="end" font-weight="bold" >5.0</text>
<line x1="220.70" y1="93.56" x2="223.70" y2="93.56" stroke="#000" stroke-width="1.0"/>
<text x="221.10" y="95.43" font-size="5.2" text-anchor="end" font-weight="bold" >7.5</text>
<line x1="220.70" y1="78.78" x2="223.70" y2="78.78" stroke="#000" stroke-width="1.0"/>
<text x="221.10" y="80.65" font-size="5.2" text-anchor="end" font-weight="bold" >10.0</text>
<line x1="220.70" y1="64.00" x2="223.70" y2="64.00" stroke="#000" stroke-width="1.0"/>
<text x="221.10" y="65.87" font-size="5.2" text-anchor="end" font-weight="bold" >12.5</text>
<line x1="237.80" y1="137.90" x2="237.80" y2="140.10" stroke="#000" stroke-width="1.0"/>
<rect x="228.40" y="131.99" width="18.80" height="5.91" fill="#8b8b8b" stroke="#000" stroke-width="1.1"/>
<line x1="237.80" y1="131.87" x2="237.80" y2="132.11" stroke="#000" stroke-width="0.8"/>
<line x1="232.80" y1="131.87" x2="242.80" y2="131.87" stroke="#000" stroke-width="0.8"/>
<line x1="232.80" y1="132.11" x2="242.80" y2="132.11" stroke="#000" stroke-width="0.8"/>
<text x="237.80" y="145.60" font-size="5.5" text-anchor="middle" font-weight="bold" >0</text>
<line x1="265.30" y1="137.90" x2="265.30" y2="140.10" stroke="#000" stroke-width="1.0"/>
<rect x="255.90" y="98.29" width="18.80" height="39.61" fill="#8b8b8b" stroke="#000" stroke-width="1.1"/>
<line x1="265.30" y1="92.97" x2="265.30" y2="103.61" stroke="#000" stroke-width="0.8"/>
<line x1="260.30" y1="92.97" x2="270.30" y2="92.97" stroke="#000" stroke-width="0.8"/>
<line x1="260.30" y1="103.61" x2="270.30" y2="103.61" stroke="#000" stroke-width="0.8"/>
<text x="265.30" y="145.60" font-size="5.5" text-anchor="middle" font-weight="bold" >tBHQ</text>
<line x1="293.20" y1="137.90" x2="293.20" y2="140.10" stroke="#000" stroke-width="1.0"/>
<rect x="283.80" y="130.81" width="18.80" height="7.09" fill="#8b8b8b" stroke="#000" stroke-width="1.1"/>
<line x1="293.20" y1="130.21" x2="293.20" y2="131.40" stroke="#000" stroke-width="0.8"/>
<line x1="288.20" y1="130.21" x2="298.20" y2="130.21" stroke="#000" stroke-width="0.8"/>
<line x1="288.20" y1="131.40" x2="298.20" y2="131.40" stroke="#000" stroke-width="0.8"/>
<text x="293.20" y="145.60" font-size="5.5" text-anchor="middle" font-weight="bold" >statin</text>
<line x1="323.00" y1="137.90" x2="323.00" y2="140.10" stroke="#000" stroke-width="1.0"/>
<rect x="311.60" y="86.47" width="18.80" height="51.43" fill="#8b8b8b" stroke="#000" stroke-width="1.1"/>
<line x1="321.00" y1="66.96" x2="321.00" y2="105.98" stroke="#000" stroke-width="0.8"/>
<line x1="316.00" y1="66.96" x2="326.00" y2="66.96" stroke="#000" stroke-width="0.8"/>
<line x1="316.00" y1="105.98" x2="326.00" y2="105.98" stroke="#000" stroke-width="0.8"/>
<text x="323.00" y="145.60" font-size="5.5" text-anchor="middle" font-weight="bold" >statin+tBHQ</text>
<text x="280.20" y="54.60" font-size="7" text-anchor="middle" font-weight="bold" >NQO1 mRNA AUC</text>
<text x="0.00" y="0.00" font-size="6.3" text-anchor="middle" font-weight="bold" transform="translate(208.30,100.95) rotate(-90)">Fold over untreated</text>
<line x1="222.40" y1="229.00" x2="222.40" y2="304.20" stroke="#000" stroke-width="1.6"/>
<line x1="221.60" y1="303.60" x2="333.20" y2="303.60" stroke="#000" stroke-width="1.6"/>
<line x1="219.40" y1="303.60" x2="222.40" y2="303.60" stroke="#000" stroke-width="1.0"/>
<text x="219.80" y="305.47" font-size="5.2" text-anchor="end" font-weight="bold" >0</text>
<line x1="219.40" y1="278.93" x2="222.40" y2="278.93" stroke="#000" stroke-width="1.0"/>
<text x="219.80" y="280.81" font-size="5.2" text-anchor="end" font-weight="bold" >1</text>
<line x1="219.40" y1="254.27" x2="222.40" y2="254.27" stroke="#000" stroke-width="1.0"/>
<text x="219.80" y="256.14" font-size="5.2" text-anchor="end" font-weight="bold" >2</text>
<line x1="219.40" y1="229.60" x2="222.40" y2="229.60" stroke="#000" stroke-width="1.0"/>
<text x="219.80" y="231.47" font-size="5.2" text-anchor="end" font-weight="bold" >3</text>
<line x1="220.80" y1="291.27" x2="222.40" y2="291.27" stroke="#000" stroke-width="0.9"/>
<line x1="220.80" y1="266.60" x2="222.40" y2="266.60" stroke="#000" stroke-width="0.9"/>
<line x1="220.80" y1="241.93" x2="222.40" y2="241.93" stroke="#000" stroke-width="0.9"/>
<line x1="235.90" y1="303.60" x2="235.90" y2="305.80" stroke="#000" stroke-width="1.0"/>
<rect x="226.50" y="278.93" width="18.80" height="24.67" fill="#8b8b8b" stroke="#000" stroke-width="1.1"/>
<text x="235.90" y="311.20" font-size="5.5" text-anchor="middle" font-weight="bold" >0</text>
<line x1="263.80" y1="303.60" x2="263.80" y2="305.80" stroke="#000" stroke-width="1.0"/>
<rect x="254.40" y="268.57" width="18.80" height="35.03" fill="#8b8b8b" stroke="#000" stroke-width="1.1"/>
<line x1="263.80" y1="266.35" x2="263.80" y2="270.79" stroke="#000" stroke-width="0.8"/>
<line x1="258.80" y1="266.35" x2="268.80" y2="266.35" stroke="#000" stroke-width="0.8"/>
<line x1="258.80" y1="270.79" x2="268.80" y2="270.79" stroke="#000" stroke-width="0.8"/>
<text x="263.80" y="311.20" font-size="5.5" text-anchor="middle" font-weight="bold" >tBHQ</text>
<line x1="291.40" y1="303.60" x2="291.40" y2="305.80" stroke="#000" stroke-width="1.0"/>
<rect x="282.00" y="260.19" width="18.80" height="43.41" fill="#8b8b8b" stroke="#000" stroke-width="1.1"/>
<line x1="291.40" y1="251.80" x2="291.40" y2="268.57" stroke="#000" stroke-width="0.8"/>
<line x1="286.40" y1="251.80" x2="296.40" y2="251.80" stroke="#000" stroke-width="0.8"/>
<line x1="286.40" y1="268.57" x2="296.40" y2="268.57" stroke="#000" stroke-width="0.8"/>
<text x="291.40" y="311.20" font-size="5.5" text-anchor="middle" font-weight="bold" >statin</text>
<line x1="321.10" y1="303.60" x2="321.10" y2="305.80" stroke="#000" stroke-width="1.0"/>
<rect x="309.70" y="245.39" width="18.80" height="58.21" fill="#8b8b8b" stroke="#000" stroke-width="1.1"/>
<line x1="319.10" y1="237.74" x2="319.10" y2="253.03" stroke="#000" stroke-width="0.8"/>
<line x1="314.10" y1="237.74" x2="324.10" y2="237.74" stroke="#000" stroke-width="0.8"/>
<line x1="314.10" y1="253.03" x2="324.10" y2="253.03" stroke="#000" stroke-width="0.8"/>
<text x="318.50" y="231.80" font-size="8.2" text-anchor="middle" font-weight="bold" >*</text>
<text x="321.10" y="311.20" font-size="5.5" text-anchor="middle" font-weight="bold" >statin+tBHQ</text>
<text x="278.50" y="221.10" font-size="7" text-anchor="middle" font-weight="bold" >KLF2 mRNA AUC</text>
<text x="0.00" y="0.00" font-size="6.3" text-anchor="middle" font-weight="bold" transform="translate(209.60,266.60) rotate(-90)">Fold over untreated</text>
<line x1="224.60" y1="389.20" x2="224.60" y2="464.20" stroke="#000" stroke-width="1.6"/>
<line x1="223.80" y1="463.60" x2="334.80" y2="463.60" stroke="#000" stroke-width="1.6"/>
<line x1="221.60" y1="463.60" x2="224.60" y2="463.60" stroke="#000" stroke-width="1.0"/>
<text x="222.00" y="465.47" font-size="5.2" text-anchor="end" font-weight="bold" >0.0</text>
<line x1="221.60" y1="448.84" x2="224.60" y2="448.84" stroke="#000" stroke-width="1.0"/>
<text x="222.00" y="450.71" font-size="5.2" text-anchor="end" font-weight="bold" >0.5</text>
<line x1="221.60" y1="434.08" x2="224.60" y2="434.08" stroke="#000" stroke-width="1.0"/>
<text x="222.00" y="435.95" font-size="5.2" text-anchor="end" font-weight="bold" >1.0</text>
<line x1="221.60" y1="419.32" x2="224.60" y2="419.32" stroke="#000" stroke-width="1.0"/>
<text x="222.00" y="421.19" font-size="5.2" text-anchor="end" font-weight="bold" >1.5</text>
<line x1="221.60" y1="404.56" x2="224.60" y2="404.56" stroke="#000" stroke-width="1.0"/>
<text x="222.00" y="406.43" font-size="5.2" text-anchor="end" font-weight="bold" >2.0</text>
<line x1="221.60" y1="389.80" x2="224.60" y2="389.80" stroke="#000" stroke-width="1.0"/>
<text x="222.00" y="391.67" font-size="5.2" text-anchor="end" font-weight="bold" >2.5</text>
<line x1="237.60" y1="463.60" x2="237.60" y2="465.80" stroke="#000" stroke-width="1.0"/>
<rect x="228.20" y="434.08" width="18.80" height="29.52" fill="#8b8b8b" stroke="#000" stroke-width="1.1"/>
<text x="237.60" y="470.80" font-size="5.5" text-anchor="middle" font-weight="bold" >0</text>
<line x1="265.40" y1="463.60" x2="265.40" y2="465.80" stroke="#000" stroke-width="1.0"/>
<rect x="256.00" y="422.27" width="18.80" height="41.33" fill="#8b8b8b" stroke="#000" stroke-width="1.1"/>
<line x1="265.40" y1="418.14" x2="265.40" y2="426.40" stroke="#000" stroke-width="0.8"/>
<line x1="260.40" y1="418.14" x2="270.40" y2="418.14" stroke="#000" stroke-width="0.8"/>
<line x1="260.40" y1="426.40" x2="270.40" y2="426.40" stroke="#000" stroke-width="0.8"/>
<text x="265.40" y="470.80" font-size="5.5" text-anchor="middle" font-weight="bold" >tBHQ</text>
<line x1="293.10" y1="463.60" x2="293.10" y2="465.80" stroke="#000" stroke-width="1.0"/>
<rect x="283.70" y="412.24" width="18.80" height="51.36" fill="#8b8b8b" stroke="#000" stroke-width="1.1"/>
<line x1="293.10" y1="408.69" x2="293.10" y2="415.78" stroke="#000" stroke-width="0.8"/>
<line x1="288.10" y1="408.69" x2="298.10" y2="408.69" stroke="#000" stroke-width="0.8"/>
<line x1="288.10" y1="415.78" x2="298.10" y2="415.78" stroke="#000" stroke-width="0.8"/>
<text x="292.90" y="405.20" font-size="8.2" text-anchor="middle" font-weight="bold" >*</text>
<text x="293.10" y="470.80" font-size="5.5" text-anchor="middle" font-weight="bold" >statin</text>
<line x1="322.60" y1="463.60" x2="322.60" y2="465.80" stroke="#000" stroke-width="1.0"/>
<rect x="311.20" y="406.92" width="18.80" height="56.68" fill="#8b8b8b" stroke="#000" stroke-width="1.1"/>
<line x1="320.60" y1="401.02" x2="320.60" y2="412.83" stroke="#000" stroke-width="0.8"/>
<line x1="315.60" y1="401.02" x2="325.60" y2="401.02" stroke="#000" stroke-width="0.8"/>
<line x1="315.60" y1="412.83" x2="325.60" y2="412.83" stroke="#000" stroke-width="0.8"/>
<text x="321.10" y="396.00" font-size="8.2" text-anchor="middle" font-weight="bold" >*</text>
<text x="322.60" y="470.80" font-size="5.5" text-anchor="middle" font-weight="bold" >statin+tBHQ</text>
<text x="279.50" y="380.20" font-size="7" text-anchor="middle" font-weight="bold" ><tspan font-family="Liberation Serif" font-weight="bold">γ</tspan>-globin mRNA AUC</text>
<text x="0.00" y="0.00" font-size="6.3" text-anchor="middle" font-weight="bold" transform="translate(210.30,426.70) rotate(-90)">Fold over untreated</text>
<line x1="224.60" y1="541.70" x2="224.60" y2="617.40" stroke="#000" stroke-width="1.6"/>
<line x1="223.80" y1="616.80" x2="335.00" y2="616.80" stroke="#000" stroke-width="1.6"/>
<line x1="221.60" y1="616.80" x2="224.60" y2="616.80" stroke="#000" stroke-width="1.0"/>
<text x="222.00" y="618.67" font-size="5.2" text-anchor="end" font-weight="bold" >0.0</text>
<line x1="221.60" y1="604.38" x2="224.60" y2="604.38" stroke="#000" stroke-width="1.0"/>
<text x="222.00" y="606.26" font-size="5.2" text-anchor="end" font-weight="bold" >0.2</text>
<line x1="221.60" y1="591.97" x2="224.60" y2="591.97" stroke="#000" stroke-width="1.0"/>
<text x="222.00" y="593.84" font-size="5.2" text-anchor="end" font-weight="bold" >0.4</text>
<line x1="221.60" y1="579.55" x2="224.60" y2="579.55" stroke="#000" stroke-width="1.0"/>
<text x="222.00" y="581.42" font-size="5.2" text-anchor="end" font-weight="bold" >0.6</text>
<line x1="221.60" y1="567.13" x2="224.60" y2="567.13" stroke="#000" stroke-width="1.0"/>
<text x="222.00" y="569.01" font-size="5.2" text-anchor="end" font-weight="bold" >0.8</text>
<line x1="221.60" y1="554.72" x2="224.60" y2="554.72" stroke="#000" stroke-width="1.0"/>
<text x="222.00" y="556.59" font-size="5.2" text-anchor="end" font-weight="bold" >1.0</text>
<line x1="221.60" y1="542.30" x2="224.60" y2="542.30" stroke="#000" stroke-width="1.0"/>
<text x="222.00" y="544.17" font-size="5.2" text-anchor="end" font-weight="bold" >1.2</text>
<line x1="237.60" y1="616.80" x2="237.60" y2="619.00" stroke="#000" stroke-width="1.0"/>
<rect x="228.20" y="554.72" width="18.80" height="62.08" fill="#8b8b8b" stroke="#000" stroke-width="1.1"/>
<text x="237.60" y="625.30" font-size="5.5" text-anchor="middle" font-weight="bold" >0</text>
<line x1="265.40" y1="616.80" x2="265.40" y2="619.00" stroke="#000" stroke-width="1.0"/>
<rect x="256.00" y="580.61" width="18.80" height="36.19" fill="#8b8b8b" stroke="#000" stroke-width="1.1"/>
<line x1="265.40" y1="580.29" x2="265.40" y2="580.92" stroke="#000" stroke-width="0.8"/>
<line x1="260.40" y1="580.29" x2="270.40" y2="580.29" stroke="#000" stroke-width="0.8"/>
<line x1="260.40" y1="580.92" x2="270.40" y2="580.92" stroke="#000" stroke-width="0.8"/>
<text x="264.70" y="575.60" font-size="8.2" text-anchor="middle" font-weight="bold" >*</text>
<text x="265.40" y="625.30" font-size="5.5" text-anchor="middle" font-weight="bold" >tBHQ</text>
<line x1="293.10" y1="616.80" x2="293.10" y2="619.00" stroke="#000" stroke-width="1.0"/>
<rect x="283.70" y="568.38" width="18.80" height="48.42" fill="#8b8b8b" stroke="#000" stroke-width="1.1"/>
<line x1="293.10" y1="562.79" x2="293.10" y2="573.96" stroke="#000" stroke-width="0.8"/>
<line x1="288.10" y1="562.79" x2="298.10" y2="562.79" stroke="#000" stroke-width="0.8"/>
<line x1="288.10" y1="573.96" x2="298.10" y2="573.96" stroke="#000" stroke-width="0.8"/>
<text x="293.10" y="625.30" font-size="5.5" text-anchor="middle" font-weight="bold" >statin</text>
<line x1="322.60" y1="616.80" x2="322.60" y2="619.00" stroke="#000" stroke-width="1.0"/>
<rect x="311.20" y="586.69" width="18.80" height="30.11" fill="#8b8b8b" stroke="#000" stroke-width="1.1"/>
<line x1="320.60" y1="581.10" x2="320.60" y2="592.28" stroke="#000" stroke-width="0.8"/>
<line x1="315.60" y1="581.10" x2="325.60" y2="581.10" stroke="#000" stroke-width="0.8"/>
<line x1="315.60" y1="592.28" x2="325.60" y2="592.28" stroke="#000" stroke-width="0.8"/>
<text x="321.00" y="577.30" font-size="7.0" text-anchor="middle" font-weight="bold" xml:space="preserve">* $</text>
<text x="322.60" y="625.30" font-size="5.5" text-anchor="middle" font-weight="bold" >statin+tBHQ</text>
<text x="279.90" y="534.20" font-size="7" text-anchor="middle" font-weight="bold" ><tspan font-family="Liberation Serif" font-weight="bold">β</tspan>-globin mRNA AUC</text>
<text x="0.00" y="0.00" font-size="6.3" text-anchor="middle" font-weight="bold" transform="translate(210.30,579.55) rotate(-90)">Fold over untreated</text>
<line x1="402.50" y1="542.50" x2="402.50" y2="617.40" stroke="#000" stroke-width="1.6"/>
<line x1="401.70" y1="616.80" x2="513.00" y2="616.80" stroke="#000" stroke-width="1.6"/>
<line x1="399.50" y1="616.80" x2="402.50" y2="616.80" stroke="#000" stroke-width="1.0"/>
<text x="399.90" y="618.67" font-size="5.2" text-anchor="end" font-weight="bold" >0.0</text>
<line x1="399.50" y1="606.27" x2="402.50" y2="606.27" stroke="#000" stroke-width="1.0"/>
<text x="399.90" y="608.14" font-size="5.2" text-anchor="end" font-weight="bold" >0.5</text>
<line x1="399.50" y1="595.74" x2="402.50" y2="595.74" stroke="#000" stroke-width="1.0"/>
<text x="399.90" y="597.61" font-size="5.2" text-anchor="end" font-weight="bold" >1.0</text>
<line x1="399.50" y1="585.21" x2="402.50" y2="585.21" stroke="#000" stroke-width="1.0"/>
<text x="399.90" y="587.09" font-size="5.2" text-anchor="end" font-weight="bold" >1.5</text>
<line x1="399.50" y1="574.69" x2="402.50" y2="574.69" stroke="#000" stroke-width="1.0"/>
<text x="399.90" y="576.56" font-size="5.2" text-anchor="end" font-weight="bold" >2.0</text>
<line x1="399.50" y1="564.16" x2="402.50" y2="564.16" stroke="#000" stroke-width="1.0"/>
<text x="399.90" y="566.03" font-size="5.2" text-anchor="end" font-weight="bold" >2.5</text>
<line x1="399.50" y1="553.63" x2="402.50" y2="553.63" stroke="#000" stroke-width="1.0"/>
<text x="399.90" y="555.50" font-size="5.2" text-anchor="end" font-weight="bold" >3.0</text>
<line x1="399.50" y1="543.10" x2="402.50" y2="543.10" stroke="#000" stroke-width="1.0"/>
<text x="399.90" y="544.97" font-size="5.2" text-anchor="end" font-weight="bold" >3.5</text>
<line x1="415.70" y1="616.80" x2="415.70" y2="619.00" stroke="#000" stroke-width="1.0"/>
<rect x="406.30" y="595.74" width="18.80" height="21.06" fill="#8b8b8b" stroke="#000" stroke-width="1.1"/>
<text x="415.70" y="624.70" font-size="5.5" text-anchor="middle" font-weight="bold" >0</text>
<line x1="443.30" y1="616.80" x2="443.30" y2="619.00" stroke="#000" stroke-width="1.0"/>
<rect x="433.90" y="572.16" width="18.80" height="44.64" fill="#8b8b8b" stroke="#000" stroke-width="1.1"/>
<line x1="443.30" y1="570.05" x2="443.30" y2="574.26" stroke="#000" stroke-width="0.8"/>
<line x1="438.30" y1="570.05" x2="448.30" y2="570.05" stroke="#000" stroke-width="0.8"/>
<line x1="438.30" y1="574.26" x2="448.30" y2="574.26" stroke="#000" stroke-width="0.8"/>
<text x="443.90" y="565.60" font-size="8.2" text-anchor="middle" font-weight="bold" >*</text>
<text x="443.30" y="624.70" font-size="5.5" text-anchor="middle" font-weight="bold" >tBHQ</text>
<line x1="471.00" y1="616.80" x2="471.00" y2="619.00" stroke="#000" stroke-width="1.0"/>
<rect x="461.60" y="574.26" width="18.80" height="42.54" fill="#8b8b8b" stroke="#000" stroke-width="1.1"/>
<line x1="471.00" y1="571.11" x2="471.00" y2="577.42" stroke="#000" stroke-width="0.8"/>
<line x1="466.00" y1="571.11" x2="476.00" y2="571.11" stroke="#000" stroke-width="0.8"/>
<line x1="466.00" y1="577.42" x2="476.00" y2="577.42" stroke="#000" stroke-width="0.8"/>
<text x="471.70" y="567.60" font-size="8.2" text-anchor="middle" font-weight="bold" >*</text>
<text x="471.00" y="624.70" font-size="5.5" text-anchor="middle" font-weight="bold" >statin</text>
<line x1="500.70" y1="616.80" x2="500.70" y2="619.00" stroke="#000" stroke-width="1.0"/>
<rect x="489.30" y="549.42" width="18.80" height="67.38" fill="#8b8b8b" stroke="#000" stroke-width="1.1"/>
<line x1="498.70" y1="547.31" x2="498.70" y2="551.52" stroke="#000" stroke-width="0.8"/>
<line x1="493.70" y1="547.31" x2="503.70" y2="547.31" stroke="#000" stroke-width="0.8"/>
<line x1="493.70" y1="551.52" x2="503.70" y2="551.52" stroke="#000" stroke-width="0.8"/>
<text x="500.10" y="545.30" font-size="7.0" text-anchor="middle" font-weight="bold" xml:space="preserve">* # $</text>
<text x="500.70" y="624.70" font-size="5.5" text-anchor="middle" font-weight="bold" >statin+tBHQ</text>
<text x="457.80" y="529.30" font-size="7" text-anchor="middle" font-weight="bold" ><tspan font-family="Liberation Serif" font-weight="bold">γ</tspan>/(<tspan font-family="Liberation Serif" font-weight="bold">γ</tspan>+<tspan font-family="Liberation Serif" font-weight="bold">β</tspan>) mRNA AUC</text>
<text x="0.00" y="0.00" font-size="6.3" text-anchor="middle" font-weight="bold" transform="translate(389.30,579.95) rotate(-90)">Fold over untreated</text>
</svg>
</body></html>
